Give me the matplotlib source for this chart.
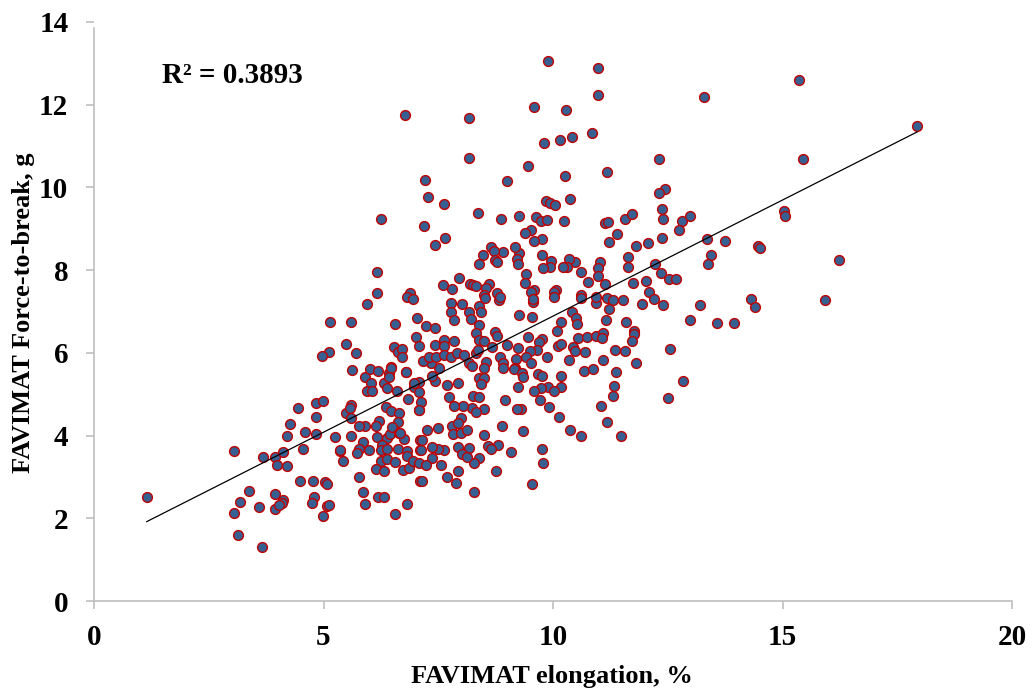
import matplotlib
matplotlib.use('Agg')
import matplotlib.pyplot as plt

plt.rcParams['font.family'] = ['Liberation Serif', 'DejaVu Serif']
plt.rcParams['font.weight'] = 'bold'

# one row of x and the same row of y
elongation = [
    1.15, 3.06, 3.68, 3.95, 4.11, 3.98, 4.20, 4.56, 4.21, 4.27,
    4.60, 4.83, 4.45, 4.84, 4.98, 4.84, 5.24, 5.36, 5.35, 5.43,
    4.48, 4.78, 5.04, 5.08, 3.38, 3.17, 3.04, 3.59, 3.94, 4.12,
    4.09, 3.95, 4.04, 4.79, 4.76, 5.07, 5.12, 4.98, 3.13, 3.65,
    5.14, 5.59, 5.49, 5.13, 4.96, 5.63, 5.61, 5.50, 5.58, 5.59,
    5.61, 5.90, 6.01, 6.18, 6.43, 6.47, 6.79, 6.04, 5.94, 6.05,
    6.32, 6.38, 6.60, 6.84, 6.97, 7.07, 7.09, 6.36, 6.48, 6.65,
    6.62, 6.22, 6.14, 5.90, 5.77, 5.85, 5.77, 5.74, 6.00, 6.17,
    6.39, 6.45, 6.50, 6.65, 6.75, 6.28, 6.25, 6.38, 6.62, 6.83,
    6.83, 6.25, 6.38, 6.56, 6.14, 6.32, 6.74, 6.86, 6.96, 7.07,
    7.10, 7.10, 5.78, 7.10, 5.87, 6.18, 6.32, 5.91, 6.81, 6.56,
    5.95, 6.55, 7.04, 7.23, 7.43, 7.78, 7.78, 8.02, 8.16, 8.21,
    7.85, 8.38, 8.44, 8.38, 9.27, 9.54, 9.56, 10.41, 10.51, 10.52,
    10.18, 10.09, 10.94, 11.21, 11.15, 7.01, 7.08, 7.42, 7.62, 7.62,
    7.85, 6.54, 6.62, 6.71, 6.72, 5.71, 8.32, 8.38, 8.50, 8.74,
    8.77, 8.68, 8.99, 9.23, 9.45, 9.75, 9.70, 10.10, 10.17, 10.54,
    10.73, 10.93, 11.10, 11.06, 10.44, 10.48, 10.70, 9.66, 9.50, 9.42,
    9.19, 9.88, 10.34, 11.09, 9.52, 8.85, 8.91, 8.91, 9.17, 9.14,
    9.32, 9.34, 10.68, 10.88, 9.68, 9.77, 10.18, 10.17, 9.90, 10.03,
    9.73, 9.58, 9.72, 9.24, 8.95, 9.30, 9.22, 9.92, 10.12, 11.05,
    11.17, 10.36, 10.62, 9.35, 8.89, 8.50, 8.81, 8.58, 8.64, 9.09,
    9.76, 9.78, 9.55, 8.75, 8.39, 8.28, 8.27, 8.18, 7.94, 8.02,
    8.12, 7.94, 7.70, 7.88, 7.15, 7.55, 7.62, 7.50, 7.36, 7.36,
    7.15, 7.12, 7.26, 7.49, 7.81, 7.83, 8.00, 8.13, 7.99, 7.94,
    8.50, 8.23, 8.32, 8.04, 7.84, 7.73, 8.26, 8.39, 7.92, 7.68,
    7.43, 7.37, 7.52, 7.34, 7.16, 7.29, 7.45, 7.63, 7.78, 7.90,
    8.07, 8.18, 8.24, 8.32, 8.37, 8.54, 8.50, 8.39, 8.50, 8.44,
    6.80, 6.48, 6.43, 6.98, 7.08, 7.13, 7.09, 6.67, 7.23, 8.83,
    9.89, 10.97, 10.98, 6.78, 8.16, 9.59, 10.28, 10.84, 10.41, 10.16,
    9.80, 8.16, 9.46, 10.26, 11.18, 9.00, 7.22, 7.28, 7.62, 8.37,
    6.26, 7.19, 7.65, 7.44, 8.87, 9.27, 9.64, 9.73, 9.87, 10.25,
    9.85, 9.93, 10.04, 10.36, 9.52, 9.38, 9.75, 9.59, 11.13, 11.20,
    11.56, 11.73, 11.39, 11.23, 11.81, 11.64, 11.64, 11.74, 11.02, 10.98,
    10.98, 10.76, 10.62, 11.14, 10.48, 10.35, 10.30, 10.22, 9.96, 9.93,
    9.79, 9.75, 9.27, 9.17, 9.22, 9.24, 9.41, 9.40, 9.58, 9.51,
    10.07, 10.02, 10.02, 9.56, 8.90, 8.66, 8.71, 8.48, 8.74, 8.77,
    8.39, 7.95, 7.60, 7.79, 8.19, 8.25, 8.32, 8.61, 8.54, 8.50,
    8.52, 8.79, 8.84, 6.17, 6.17, 6.88, 6.83, 6.94, 10.62, 10.62,
    10.93, 11.17, 11.31, 11.53,
    15.36, 13.28, 12.30, 15.45, 12.43, 12.30, 12.37, 12.40, 12.80, 12.98,
    12.75, 12.06, 12.38, 13.35, 13.75, 15.03, 15.06, 12.22, 12.35, 12.53,
    12.69, 12.02, 12.09, 12.19, 11.94, 12.40, 13.45, 13.37, 14.47, 14.50,
    16.24, 15.93, 14.31, 14.39, 13.20, 12.98, 13.57, 13.95, 12.55, 12.83,
    12.51, 11.58, 11.76, 11.76, 11.73, 11.35, 11.57, 11.80, 11.37, 11.32,
    11.30, 11.49, 17.93,
]
force = [
    2.52, 3.63, 3.49, 3.48, 3.61, 3.29, 3.26, 3.68, 3.99, 4.28,
    4.09, 4.04, 4.67, 4.78, 4.84, 4.45, 3.96, 3.63, 3.66, 3.38,
    2.89, 2.91, 2.88, 2.83, 2.65, 2.40, 2.13, 2.28, 2.59, 2.44,
    2.36, 2.22, 2.32, 2.51, 2.37, 2.30, 2.31, 2.06, 1.60, 1.30,
    6.75, 6.75, 6.22, 6.03, 5.93, 5.58, 4.74, 4.54, 4.67, 4.00,
    4.43, 5.42, 5.61, 5.56, 5.52, 5.67, 5.54, 5.26, 5.08, 5.08,
    5.26, 5.14, 5.08, 4.88, 5.18, 5.30, 4.62, 4.68, 4.60, 4.54,
    4.33, 4.36, 4.23, 4.23, 4.24, 3.85, 3.67, 3.57, 3.65, 3.96,
    3.93, 4.04, 4.21, 4.07, 3.92, 3.77, 3.65, 3.67, 3.67, 3.63,
    3.51, 3.38, 3.43, 3.35, 3.20, 3.14, 3.17, 3.22, 3.39, 3.33,
    3.89, 3.65, 3.01, 2.90, 2.63, 2.52, 2.52, 2.34, 2.35, 2.10,
    7.17, 6.70, 6.84, 6.65, 6.60, 7.21, 7.00, 7.17, 6.98, 6.82,
    6.79, 7.13, 6.99, 6.67, 6.91, 6.87, 7.24, 7.00, 6.84, 6.69,
    6.74, 6.54, 7.20, 7.05, 6.79, 6.39, 6.17, 6.20, 6.31, 6.17,
    6.29, 6.15, 6.03, 6.09, 5.91, 6.00, 6.47, 6.31, 6.29, 6.51,
    6.41, 6.14, 6.19, 6.11, 6.38, 6.34, 6.27, 6.17, 6.21, 6.36,
    6.39, 6.41, 6.49, 6.37, 6.14, 6.04, 6.02, 6.07, 6.04, 5.89,
    5.86, 5.89, 5.83, 5.83, 5.75, 5.90, 5.75, 5.63, 5.64, 5.60,
    5.52, 5.42, 5.57, 5.60, 5.49, 5.44, 5.44, 5.17, 5.18, 5.08,
    5.14, 5.08, 4.86, 5.17, 4.86, 4.65, 4.64, 4.68, 4.44, 4.71,
    4.32, 4.13, 3.98, 4.10, 4.23, 4.01, 3.77, 3.75, 3.68, 3.60,
    3.67, 3.33, 2.84, 3.15, 3.46, 3.33, 2.63, 3.70, 3.73, 3.55,
    3.47, 3.14, 3.00, 2.85, 2.90, 3.30, 3.66, 3.68, 3.72, 3.45,
    3.89, 3.64, 4.13, 4.18, 4.24, 4.05, 4.07, 4.14, 4.42, 4.31,
    4.65, 4.67, 4.58, 4.71, 4.71, 4.93, 4.95, 4.94, 5.26, 5.22,
    5.33, 5.44, 5.64, 5.75, 5.80, 5.91, 5.91, 5.94, 5.89, 6.00,
    5.96, 5.76, 5.69, 5.99, 6.08, 5.79, 5.63, 5.39, 5.38, 5.25,
    5.54, 5.63, 5.42, 5.26, 5.05, 4.81, 4.63, 4.06, 3.30, 7.28,
    13.06, 12.89, 12.24, 11.76, 11.69, 11.94, 11.88, 11.32, 11.21, 11.15,
    11.07, 10.72, 10.53, 10.28, 10.37, 10.15, 10.19, 9.77, 9.61, 9.39,
    9.23, 9.07, 8.78, 8.61, 9.23, 9.30, 9.28, 9.18, 9.22, 9.19,
    9.68, 9.63, 9.57, 9.72, 8.96, 8.90, 8.76, 8.70, 9.14, 9.16,
    9.23, 9.36, 8.87, 8.69, 8.58, 8.31, 8.08, 7.68, 8.20, 8.05,
    7.86, 7.72, 7.96, 7.66, 8.20, 8.28, 8.08, 8.08, 8.22, 8.08,
    8.05, 8.37, 8.41, 8.57, 8.28, 8.16, 7.91, 7.68, 7.52, 7.48,
    7.53, 7.47, 7.34, 7.30, 8.44, 8.55, 8.46, 8.37, 8.24, 8.20,
    8.16, 7.82, 7.63, 7.54, 7.66, 7.64, 7.62, 7.66, 7.58, 7.40,
    7.32, 7.45, 7.34, 7.95, 7.45, 7.45, 7.36, 7.30, 7.40, 7.32,
    7.36, 7.32, 7.29, 7.27,
    12.60, 12.19, 10.69, 10.69, 9.95, 9.86, 9.49, 9.23, 9.19, 9.32,
    8.98, 8.66, 8.77, 8.75, 8.71, 9.42, 9.32, 8.16, 7.94, 7.79,
    7.78, 7.74, 7.48, 7.30, 7.17, 7.15, 8.37, 8.14, 8.59, 8.54,
    8.24, 7.28, 7.31, 7.10, 7.16, 6.79, 6.73, 6.72, 6.10, 5.32,
    4.90, 6.75, 6.54, 6.46, 6.29, 6.07, 6.05, 5.75, 5.53, 5.21,
    4.95, 3.99, 11.48,
]
trend_x = [1.15, 17.93]
trend_y = [1.92, 11.34]

x_ticks = [0, 5, 10, 15, 20]
y_ticks = [0, 2, 4, 6, 8, 10, 12, 14]

W, H = 1036, 690
fig = plt.figure(figsize=(W / 100, H / 100), dpi=100)
ax = fig.add_axes([94 / W, 1 - 601 / H, (1012 - 94) / W, (601 - 22) / H])

ax.scatter(elongation, force, s=50, color='#376092', edgecolors='#C00000',
           linewidths=1.0, clip_on=False, zorder=3)
ax.plot(trend_x, trend_y, color='black', lw=0.9, zorder=4)

ax.set_xlim(0, 20)
ax.set_ylim(0, 14)
ax.set_xticks(x_ticks)
ax.set_yticks(y_ticks)
ax.tick_params(length=6, width=1.2, color='#BFBFBF', labelsize=21)
ax.tick_params(axis='x', pad=10.5)
ax.tick_params(axis='y', pad=12.5)
for side in ['top', 'right']:
    ax.spines[side].set_visible(False)
for side in ['left', 'bottom']:
    ax.spines[side].set_color('#BFBFBF')
    ax.spines[side].set_linewidth(1.2)
# the vertical axis line stops a little short of the top tick in the original
ax.spines['left'].set_bounds(0, 13.85)

fig.text(552 / W, 1 - 683 / H, 'FAVIMAT elongation, %', fontsize=19,
         fontweight='bold', ha='center', va='baseline')
fig.text(23.5 / W, 1 - 312.5 / H, 'FAVIMAT Force-to-break, g', fontsize=19,
         fontweight='bold', ha='center', va='center', rotation=90)
ax.text(1.48, 12.52, 'R² = 0.3893', fontsize=21, fontweight='bold', va='baseline')

fig.savefig('out.png', dpi=100)
